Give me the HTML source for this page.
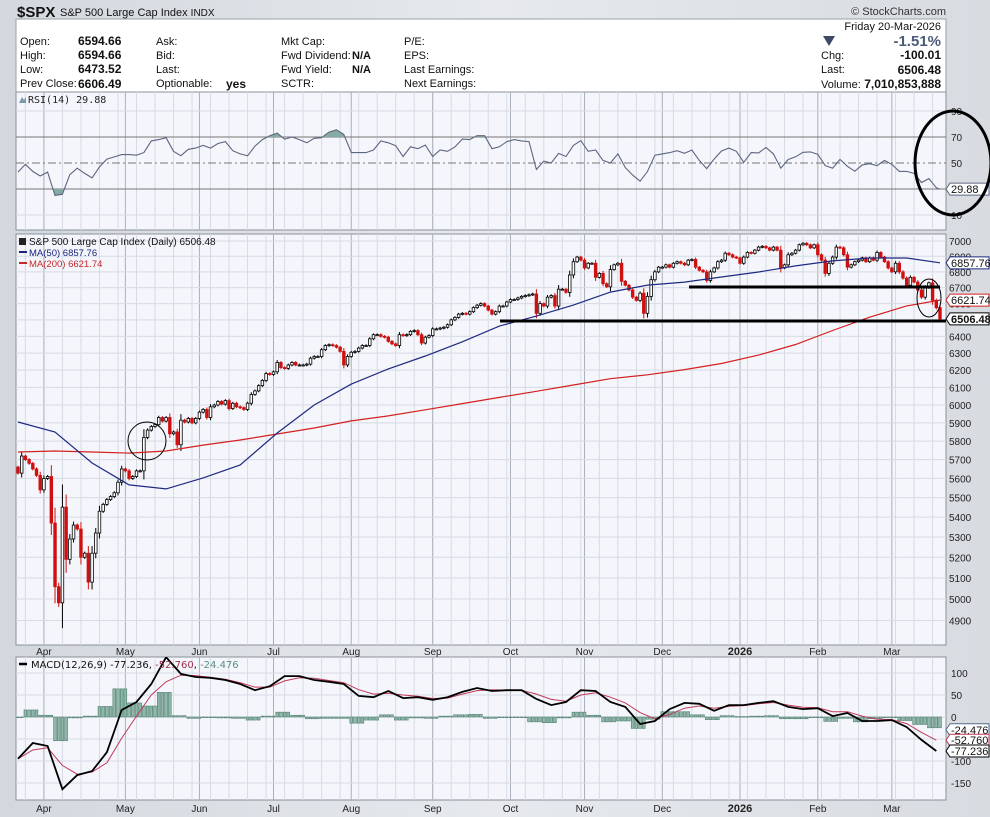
<!DOCTYPE html>
<html><head><meta charset="utf-8">
<style>
html,body{margin:0;padding:0;}
body{width:990px;height:817px;overflow:hidden;background:#dde1e6;font-family:"Liberation Sans",sans-serif;}
svg{display:block;}
</style></head>
<body>
<svg id="chart" width="990" height="817" viewBox="0 0 990 817" xmlns="http://www.w3.org/2000/svg" font-family="Liberation Sans, sans-serif">
<defs>
<linearGradient id="bgg" x1="0" y1="0" x2="1" y2="0"><stop offset="0" stop-color="#d3d8de"/><stop offset="0.5" stop-color="#e6e9ed"/><stop offset="1" stop-color="#d8dce1"/></linearGradient>
<clipPath id="clipRsi"><rect x="16" y="92" width="930" height="138"/></clipPath>
<clipPath id="clipPrice"><rect x="16" y="234" width="930" height="411"/></clipPath>
<clipPath id="clipMacd"><rect x="16" y="657" width="930" height="143"/></clipPath>
</defs>
<rect x="0" y="0" width="990" height="817" fill="url(#bgg)"/>
<g>
<text x="17" y="17" font-size="15" font-weight="bold" fill="#111">$SPX</text>
<text x="60" y="16" font-size="11" fill="#111">S&amp;P 500 Large Cap Index <tspan font-size="10">INDX</tspan></text>
<text x="946" y="15" font-size="11" fill="#333" text-anchor="end">© StockCharts.com</text>
</g>
<g>
<rect x="16" y="19" width="930" height="73" fill="#fff" stroke="#9aa0a8"/>
<g font-size="11" fill="#111">
<text x="20" y="45">Open:</text><text x="78" y="45" font-weight="bold" font-size="12">6594.66</text>
<text x="20" y="59">High:</text><text x="78" y="59" font-weight="bold" font-size="12">6594.66</text>
<text x="20" y="73">Low:</text><text x="78" y="73" font-weight="bold" font-size="12">6473.52</text>
<text x="20" y="87">Prev Close:</text><text x="78" y="88" font-weight="bold" font-size="12">6606.49</text>
<text x="156" y="45">Ask:</text><text x="156" y="59">Bid:</text><text x="156" y="73">Last:</text><text x="156" y="87">Optionable:</text>
<text x="226" y="88" font-weight="bold" font-size="12">yes</text>
<text x="281" y="45">Mkt Cap:</text><text x="281" y="59">Fwd Dividend:</text><text x="281" y="73">Fwd Yield:</text><text x="281" y="87">SCTR:</text>
<text x="352" y="59" font-weight="bold">N/A</text><text x="352" y="73" font-weight="bold">N/A</text>
<text x="404" y="45">P/E:</text><text x="404" y="59">EPS:</text><text x="404" y="73">Last Earnings:</text><text x="404" y="87">Next Earnings:</text>
<text x="941" y="30" text-anchor="end">Friday  20-Mar-2026</text>
<polygon points="823,36 835,36 829,46" fill="#3c4a66"/>
<text x="941" y="46" text-anchor="end" font-weight="bold" font-size="15" fill="#4a5a78">-1.51%</text>
<text x="821" y="59">Chg:</text><text x="941" y="59" text-anchor="end" font-weight="bold" font-size="12">-100.01</text>
<text x="821" y="73">Last:</text><text x="941" y="74" text-anchor="end" font-weight="bold" font-size="12">6506.48</text>
<text x="821" y="88">Volume:</text><text x="941" y="88" text-anchor="end" font-weight="bold" font-size="12">7,010,853,888</text>
</g>
</g>
<rect x="16" y="92" width="930" height="138" fill="#f4f6fb" stroke="#8a9098"/>
<rect x="16" y="234" width="930" height="411" fill="#f4f6fb" stroke="#8a9098"/>
<rect x="16" y="657" width="930" height="143" fill="#f4f6fb" stroke="#8a9098"/>
<g id="grid"></g>
<g id="rsi" clip-path="url(#clipRsi)"></g>
<g id="price" clip-path="url(#clipPrice)"></g>
<g id="macd" clip-path="url(#clipMacd)"></g>
<g id="axes" font-size="10" fill="#222"></g>
<g>
<text x="28" y="103" font-size="10" font-family="DejaVu Sans Mono, monospace" fill="#222">RSI(14) 29.88</text>
<polygon points="19,103 22,97 24,100 26,97 26,103" fill="#7a9aa8"/>
<rect x="19" y="238" width="7" height="7" fill="#222"/>
<text x="29" y="245" font-size="10" fill="#111">S&amp;P 500 Large Cap Index (Daily) 6506.48</text>
<line x1="19" y1="252" x2="27" y2="252" stroke="#1a237e" stroke-width="2"/>
<text x="29" y="256" font-size="9.5" fill="#1a237e">MA(50) 6857.76</text>
<line x1="19" y1="263" x2="27" y2="263" stroke="#c62828" stroke-width="2"/>
<text x="29" y="267" font-size="9.5" fill="#c62828">MA(200) 6621.74</text>
<line x1="19" y1="664" x2="27" y2="664" stroke="#000" stroke-width="2.5"/>
<text x="31" y="668" font-size="10" font-family="DejaVu Sans, sans-serif" fill="#111">MACD(12,26,9) -77.236, <tspan fill="#a03050">-52.760</tspan>, <tspan fill="#5a9080">-24.476</tspan></text>
</g>
<g fill="none" stroke="#000">
<line x1="689" y1="287" x2="940" y2="287" stroke-width="3"/>
<line x1="500" y1="321" x2="946" y2="321" stroke-width="3"/>
<circle cx="147" cy="441" r="19" stroke-width="1"/>
<ellipse cx="929" cy="298" rx="12" ry="19" stroke-width="1"/>
<ellipse cx="953" cy="163" rx="38" ry="52" stroke-width="3"/>
</g>
</svg>
<script>
const closes=[5628,5719,5700,5680,5650,5616,5540,5600,5610,5370,5058,4982,5451,5190,5290,5360,5340,5200,5220,5080,5220,5320,5430,5465,5490,5505,5525,5580,5650,5640,5600,5610,5640,5640,
5820,5860,5880,5890,5930,5910,5930,5840,5850,5780,5915,5905,5925,5900,5925,5960,5975,5930,5990,6000,6020,6005,6025,5980,6010,5990,5985,5975,6010,6060,6080,6110,6140,6180,6175,6190,6245,6215,6210,6230,6245,6230,6230,6230,
6235,6270,6280,6280,6320,6345,6350,6345,6335,6310,6230,6280,6305,6310,6330,6345,6345,6385,6410,6410,6400,6395,6370,6355,6345,6410,6405,6410,6430,6435,6410,6360,6395,6405,6445,6445,6450,6455,6470,6500,6515,6535,6540,6535,6550,6575,6590,6600,6585,6560,6535,6550,6585,6585,6610,6625,6625,6635,6645,6650,6655,6660,6540,6600,6585,6640,6650,6585,6690,6690,6670,6780,6865,6895,6875,6825,6855,6855,6765,6790,6725,6705,6815,6845,6855,
6740,6715,6685,6640,6620,6665,6540,6645,6750,6800,6830,6830,6845,6830,6855,6865,6855,6845,6875,6880,6830,6810,6800,6745,6800,6825,6865,6875,6920,6910,6895,6890,6855,6895,6925,6920,6940,6960,6965,6955,6940,6960,6940,6825,6845,6910,6920,6940,6975,6985,6975,6955,6975,6910,6875,6790,6855,6895,6960,6955,6910,6830,6845,6865,6875,6890,6865,6890,6875,6925,6895,6865,6825,6800,6855,6800,6760,6715,6765,6735,6685,6640,6700,6730,6620,6575,6506];
const firstOpen=5660;
const ma50=[5905,5850,5682,5566,5545,5603,5671,5844,6000,6119,6207,6283,6367,6462,6523,6591,6672,6716,6735,6767,6799,6838,6870,6889,6889,6857.76];
const ma200=[5741,5746,5741,5735,5746,5778,5806,5839,5872,5911,5939,5973,6008,6043,6078,6114,6150,6173,6203,6239,6288,6351,6435,6516,6586,6621.74];
const rsi=[43,49,43.5,40,43,25,26,41,46,42,38.5,47,53,54.7,56.5,56.5,56,58,67,68,69.5,59,55.6,60.5,61.5,63.6,61.5,65,66.5,59.5,57,55.5,63,68,71,73,68.3,70,68,65.5,69,69.5,73.8,75.5,72,58,58,58,60,67,65.5,63.3,55,62.5,61,63.8,55,60,59,62.3,68.4,68,71,71,61,62.5,66.5,68,67,66.5,45,51.5,50,57.4,55,63.5,67.2,59,60,52,50,57,46.5,40.7,36,43.5,56,57,58,59.5,57.5,60,52,45.7,53,59.2,61.5,59,50.5,58,57.8,62,57,46,52.7,54.8,58.2,58.5,56.7,48,46,52.8,47.5,43.7,48.5,49.5,48,52,48.9,43.5,43.5,42,35,38,31];
const rsiLast=29.88;
const macdLine=[-95,-59,-66,-164,-132,-123,-80,16,34,75,136,98,91,89,84,75,61,70,93,93,84,80,75,48,45,59,43,45,39,45,57,66,59,61,61,41,27,34,61,59,34,23,-16,-9,18,32,30,14,27,27,32,36,23,18,20,2,9,-9,-9,-7,-23,-52,-77.236];
const signalLine=[-95,-75,-70,-110,-130,-125,-104,-48,2,50,80,95,94,90,86,78,68,68,82,89,88,83,78,62,52,54,50,47,42,43,52,60,62,61,61,52,40,36,50,55,45,32,10,-4,6,20,25,20,24,26,30,33,27,22,21,12,12,2,-5,-6,-15,-35,-52.760];
const priceTicks=[4900,5000,5100,5200,5300,5400,5500,5600,5700,5800,5900,6000,6100,6200,6300,6400,6500,6600,6700,6800,6900,7000];
const rsiTicks=[10,30,50,70,90];
const macdTicks=[100,50,0,-50,-100,-150];
const monthLabels=["Apr","May","Jun","Jul","Aug","Sep","Oct","Nov","Dec","2026","Feb","Mar"];
const monthBars=[7,29,49,69,90,112,133,153,174,195,216,236];

const NS="http://www.w3.org/2000/svg";
const N=closes.length;
const X0=18, X1=940;
function xBar(i){return X0+i*(X1-X0)/(N-1);}
function yPrice(v){return 241+1064*Math.log(7000/v);}
function yRsi(v){return 163-(v-50)*1.3;}
function yMacd(v){return 717-v*0.44;}
function mk(tag,attrs,parent){const e=document.createElementNS(NS,tag);for(const k in attrs)e.setAttribute(k,attrs[k]);parent.appendChild(e);return e;}

const grid=document.getElementById('grid');
const axes=document.getElementById('axes');
const panels=[[92,230],[234,645],[657,800]];
for(let i=2;i<N;i+=5){const x=xBar(i);panels.forEach(p=>{const l=mk('line',{x1:x,x2:x,y1:p[0],y2:p[1],stroke:'#d6dbe4','stroke-width':1},grid);

});}
monthBars.forEach((b,k)=>{const x=xBar(b);panels.forEach(p=>{const l=mk('line',{x1:x,x2:x,y1:p[0],y2:p[1],stroke:'#aab0ba','stroke-width':1},grid);

});
[651,808].forEach(yy=>{const t=mk('text',{x:x,y:yy+4,'text-anchor':'middle','font-size':(monthLabels[k]==='2026'?11:10),'font-weight':(monthLabels[k]==='2026'?'bold':'normal')},axes);t.textContent=monthLabels[k];

});});
priceTicks.forEach(v=>{const y=yPrice(v);const l=mk('line',{x1:16,x2:946,y1:y,y2:y,stroke:'#d6dbe4'},grid);


const t=mk('text',{x:949,y:y+4},axes);t.textContent=v;

});
rsiTicks.forEach(v=>{const y=yRsi(v);const strong=(v===30||v===70||v===50);const l=mk('line',{x1:16,x2:946,y1:y,y2:y,stroke:strong?'#777':'#d6dbe4','stroke-dasharray':v===50?'8,3,2,3':'none'},grid);


if(v!==30){const t=mk('text',{x:951,y:y+4},axes);t.textContent=v;

}});
macdTicks.forEach(v=>{const y=yMacd(v);const l=mk('line',{x1:16,x2:946,y1:y,y2:y,stroke:'#d6dbe4'},grid);


const t=mk('text',{x:951,y:y+4},axes);t.textContent=v;

});

const rsiG=document.getElementById('rsi');
let pts=rsi.map((v,k)=>[xBar(2*k),yRsi(v)]);pts.push([xBar(N-1),yRsi(rsiLast)]);
const ptsStr=pts.map(p=>p[0].toFixed(1)+','+p[1].toFixed(1)).join(' ');
const c70=mk('clipPath',{id:'c70'},rsiG);mk('rect',{x:16,y:92,width:930,height:yRsi(70)-92},c70);
const c30=mk('clipPath',{id:'c30'},rsiG);mk('rect',{x:16,y:yRsi(30),width:930,height:230-yRsi(30)},c30);
const f1=mk('polygon',{points:pts[0][0]+','+yRsi(70)+' '+ptsStr+' '+pts[pts.length-1][0]+','+yRsi(70),fill:'#86aaa4','clip-path':'url(#c70)'},rsiG);


const f2=mk('polygon',{points:pts[0][0]+','+yRsi(30)+' '+ptsStr+' '+pts[pts.length-1][0]+','+yRsi(30),fill:'#86aaa4','clip-path':'url(#c30)'},rsiG);


const rl=mk('polyline',{points:ptsStr,fill:'none',stroke:'#5d6680','stroke-width':1.1},rsiG);



const pg=document.getElementById('price');
const bw=2.6;
for(let i=0;i<N;i++){
 const o=i===0?firstOpen:closes[i-1], c=closes[i];
 const x=xBar(i);const hi=Math.max(o,c),lo=Math.min(o,c);
 const wick=Math.max(8,(hi-lo)*0.25);
 const yh=yPrice(hi+wick),yl=yPrice(lo-wick),yt=yPrice(hi),yb=yPrice(lo);
 const up=c>=o;
 const col=up?'#000':'#d01010';
 const w=mk('line',{x1:x,x2:x,y1:yh,y2:yl,stroke:col,'stroke-width':1},pg);
 
 
 const r=mk('rect',{x:x-bw/2,y:yt,width:bw,height:Math.max(1,yb-yt),fill:up?'#fff':'#d01010',stroke:col,'stroke-width':0.8},pg);
 
 
}
function maPath(arr){return arr.map((v,k)=>{const i=Math.min(k*10,N-1);return xBar(i).toFixed(1)+','+yPrice(v).toFixed(1);}).join(' ');}
const m2=mk('polyline',{points:maPath(ma200),fill:'none',stroke:'#d42020','stroke-width':1.2},pg);


const m1=mk('polyline',{points:maPath(ma50),fill:'none',stroke:'#1f2a80','stroke-width':1.2},pg);



const mg=document.getElementById('macd');
const hist=macdLine.map((v,k)=>v-signalLine[k]);
hist.forEach((h,k)=>{for(let j=0;j<4;j++){const i=k*4+j-2;if(i<0||i>=N)continue;const x=xBar(i);const y0=yMacd(0),y1=yMacd(h);
 const r=mk('rect',{x:x-1.4,y:Math.min(y0,y1),width:2.8,height:Math.max(0.6,Math.abs(y1-y0)),fill:'#8fb8aa',stroke:'#4f7d6e','stroke-width':0.6},mg);
 
 }});
function mPath(arr){return arr.map((v,k)=>{const i=Math.min(k*4,N-1);return xBar(i).toFixed(1)+','+yMacd(v).toFixed(1);}).join(' ');}
const sl=mk('polyline',{points:mPath(signalLine),fill:'none',stroke:'#c03a5a','stroke-width':1},mg);


const ml=mk('polyline',{points:mPath(macdLine),fill:'none',stroke:'#000','stroke-width':1.8},mg);



function tag(y,txt,stroke,bold,name){const g=mk('g',{},axes);
 
 
 mk('polygon',{points:`946,${y} 950,${y-6} 989,${y-6} 989,${y+6} 950,${y+6}`,fill:'#fff',stroke:stroke,'stroke-width':1},g);
 const t=mk('text',{x:951,y:y+4,'font-size':11,'font-weight':bold?'bold':'normal',fill:'#111'},g);t.textContent=txt;}
tag(yPrice(ma50[ma50.length-1]),'6857.76','#1f2a80',false,'ma50-value-tag');
tag(yPrice(ma200[ma200.length-1]),'6621.74','#d42020',false,'ma200-value-tag');
tag(yPrice(closes[N-1]),'6506.48','#000',true,'last-price-tag');
tag(yRsi(rsiLast),'29.88','#5d6680',false,'rsi-value-tag');
tag(yMacd(hist[hist.length-1])+2,'-24.476','#4f6d8a',false,'histogram-value-tag');
tag(yMacd(signalLine[signalLine.length-1]),'-52.760','#c03a5a',false,'signal-value-tag');
tag(yMacd(macdLine[macdLine.length-1]),'-77.236','#000',false,'macd-value-tag');
</script>
</body></html>
